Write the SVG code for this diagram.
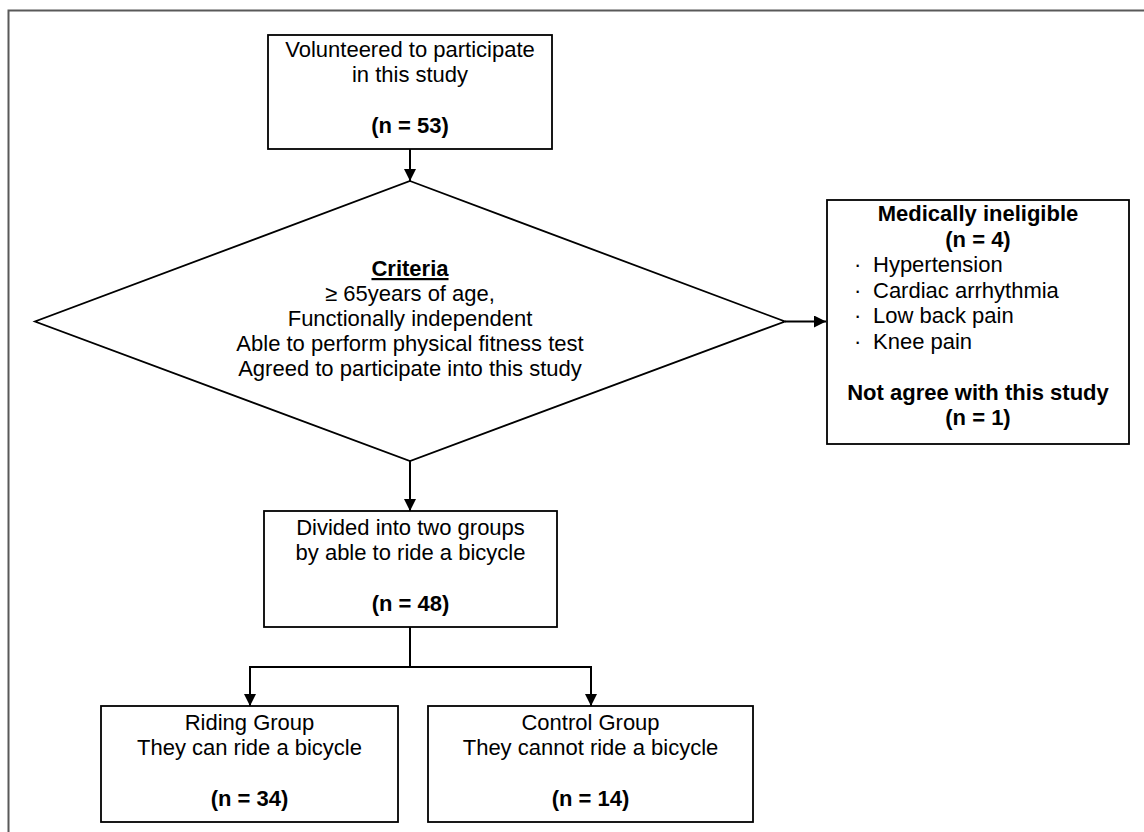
<svg xmlns="http://www.w3.org/2000/svg" width="1144" height="832" viewBox="0 0 1144 832">
<defs>
<marker id="ah" markerWidth="12" markerHeight="12" viewBox="0 0 12 12" refX="12" refY="6" orient="auto" markerUnits="userSpaceOnUse">
<path d="M0,0 L12,6 L0,12 Z" fill="#000"/>
</marker>
<style>
.box{fill:#fff;stroke:#000;stroke-width:1.8}
.t{font-family:"Liberation Sans",Arial,sans-serif;font-size:22px;fill:#000;text-anchor:middle}
.b{font-weight:bold}
.l{text-anchor:start}
.c{fill:none;stroke:#000;stroke-width:2}
</style>
</defs>
<rect width="1144" height="832" fill="#fff"/>
<path d="M8.5,832 V10.5 H1144" fill="none" stroke="#595959" stroke-width="2"/>
<g id="connectors">
<path class="c" d="M410,149 V181" marker-end="url(#ah)"/>
<path class="c" d="M785,321.5 H826" marker-end="url(#ah)"/>
<path class="c" d="M410,461 V511" marker-end="url(#ah)"/>
<path class="c" d="M410,627 V667 H250 V706" marker-end="url(#ah)"/>
<path class="c" d="M410,667 H591 V706" marker-end="url(#ah)"/>
</g>
<g id="start">
<rect class="box" x="268" y="35" width="284" height="114"/>
<text class="t" x="410" y="57">Volunteered to participate</text>
<text class="t" x="410" y="82">in this study</text>
<text class="t b" x="410" y="133">(n = 53)</text>
</g>
<g id="criteria">
<polygon class="box" points="410,181 785,321.5 410,461 35,321.5"/>
<text class="t b" x="410" y="276" text-decoration="underline">Criteria</text>
<text class="t" x="410" y="301">≥ 65years of age,</text>
<text class="t" x="410" y="326">Functionally independent</text>
<text class="t" x="410" y="351">Able to perform physical fitness test</text>
<text class="t" x="410" y="376">Agreed to participate into this study</text>
</g>
<g id="excluded">
<rect class="box" x="827" y="200" width="302" height="244"/>
<text class="t b" x="978" y="221">Medically ineligible</text>
<text class="t b" x="978" y="246.5">(n = 4)</text>
<text class="t l" x="854" y="272">·<tspan x="873">Hypertension</tspan></text>
<text class="t l" x="854" y="297.5">·<tspan x="873">Cardiac arrhythmia</tspan></text>
<text class="t l" x="854" y="323">·<tspan x="873">Low back pain</tspan></text>
<text class="t l" x="854" y="348.5">·<tspan x="873">Knee pain</tspan></text>
<text class="t b" x="978" y="399.5">Not agree with this study</text>
<text class="t b" x="978" y="425">(n = 1)</text>
</g>
<g id="divided">
<rect class="box" x="264" y="511" width="293" height="116"/>
<text class="t" x="410.5" y="535">Divided into two groups</text>
<text class="t" x="410.5" y="560">by able to ride a bicycle</text>
<text class="t b" x="410.5" y="611">(n = 48)</text>
</g>
<g id="riding">
<rect class="box" x="101" y="706" width="297" height="116"/>
<text class="t" x="249.5" y="730">Riding Group</text>
<text class="t" x="249.5" y="755">They can ride a bicycle</text>
<text class="t b" x="249.5" y="806">(n = 34)</text>
</g>
<g id="control">
<rect class="box" x="428" y="706" width="325" height="116"/>
<text class="t" x="590.5" y="730">Control Group</text>
<text class="t" x="590.5" y="755">They cannot ride a bicycle</text>
<text class="t b" x="590.5" y="806">(n = 14)</text>
</g>
</svg>
